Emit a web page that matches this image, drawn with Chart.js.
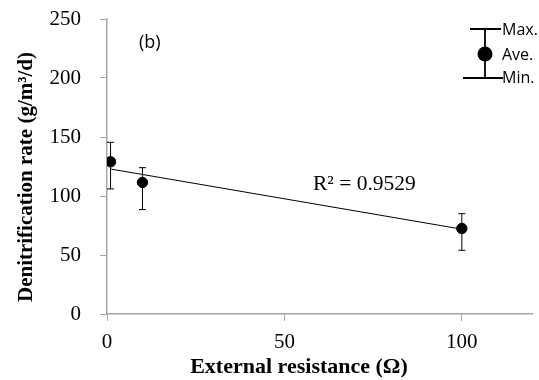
<!DOCTYPE html>
<html>
<head>
<meta charset="utf-8">
<script src="https://cdn.jsdelivr.net/npm/chart.js@4.4.0/dist/chart.umd.min.js"></script>
<style>
  html, body { margin: 0; padding: 0; background: #fff; }
  #wrap { width: 539px; height: 380px; position: relative; }
</style>
</head>
<body>
<div id="wrap"><canvas id="c" width="539" height="380"></canvas></div>
<script>
const resistance = [1, 10, 100];
const aveRate = [129, 111.5, 72.5];
const maxRate = [145.5, 124, 85];
const minRate = [106, 88.5, 54];
const yTicks = [0, 50, 100, 150, 200, 250];
const xTicks = [0, 50, 100];
const r2Label = 'R\u00b2 = 0.9529';
const xTitle = 'External resistance (\u03a9)';
const yTitle = 'Denitrification rate (g/m\u00b3/d)';

// least squares trend line from the averages
let n = resistance.length, mx = 0, my = 0;
for (let i = 0; i < n; i++) { mx += resistance[i] / n; my += aveRate[i] / n; }
let sxx = 0, sxy = 0;
for (let i = 0; i < n; i++) {
  sxx += (resistance[i] - mx) * (resistance[i] - mx);
  sxy += (resistance[i] - mx) * (aveRate[i] - my);
}
const slope = sxy / sxx, icpt = my - slope * mx;
const xFirst = resistance[0], xLast = resistance[n - 1];
const trend = [{x: xFirst, y: icpt + slope * xFirst}, {x: xLast, y: icpt + slope * xLast}];

const serif = '"Liberation Serif", "Times New Roman", serif';
const sans = '"Open Sans", "DejaVu Sans", sans-serif';
const axisGrey = '#a6a6a6';

// error bars, titles, labels and the little key ..............................
const extras = {
  id: 'extras',
  afterDatasetsDraw(chart) {
    const ctx = chart.ctx, xs = chart.scales.x, ys = chart.scales.y;
    ctx.save();
    ctx.strokeStyle = '#000';
    ctx.lineWidth = 1;
    for (let i = 0; i < n; i++) {
      const px = xs.getPixelForValue(resistance[i]);
      const top = ys.getPixelForValue(maxRate[i]);
      const bot = ys.getPixelForValue(minRate[i]);
      ctx.beginPath();
      ctx.moveTo(px, top); ctx.lineTo(px, bot);
      ctx.moveTo(px - 3.5, top); ctx.lineTo(px + 3.5, top);
      ctx.moveTo(px - 3.5, bot); ctx.lineTo(px + 3.5, bot);
      ctx.stroke();
    }
    ctx.fillStyle = '#000';
    ctx.textBaseline = 'middle';
    ctx.font = '21.5px ' + serif;
    ctx.fillText(r2Label, 313, 184);
    ctx.font = '18px ' + sans;
    ctx.fillText('(b)', 139, 43);

    // axis titles
    ctx.font = 'bold 22px ' + serif;
    ctx.textAlign = 'center';
    ctx.fillText(xTitle, 299, 367);
    ctx.save();
    ctx.translate(27, 177);
    ctx.rotate(-Math.PI / 2);
    ctx.font = 'bold 21px ' + serif;
    ctx.fillText(yTitle, 0, 0);
    ctx.restore();
    ctx.textAlign = 'left';

    // key
    const kx = 485;
    ctx.lineWidth = 1.8;
    ctx.beginPath();
    ctx.moveTo(kx, 29); ctx.lineTo(kx, 78);
    ctx.moveTo(kx - 15, 29); ctx.lineTo(kx + 16, 29);
    ctx.moveTo(kx - 22, 78); ctx.lineTo(kx + 18, 78);
    ctx.stroke();
    ctx.beginPath();
    ctx.arc(kx, 54, 7.5, 0, Math.PI * 2);
    ctx.fill();
    ctx.font = '16px ' + sans;
    ctx.fillText('Max.', 502, 30);
    ctx.fillText('Ave.', 502, 55);
    ctx.fillText('Min.', 502, 78);
    ctx.restore();
  }
};

const ctx = document.getElementById('c');
new Chart(ctx, {
  type: 'scatter',
  data: {
    datasets: [
      {
        label: 'Ave.',
        data: resistance.map((x, i) => ({x: x, y: aveRate[i]})),
        backgroundColor: '#000',
        borderColor: '#000',
        pointRadius: 5.2,
        order: 0
      },
      {
        label: 'trend',
        type: 'line',
        data: trend,
        borderColor: '#000',
        borderWidth: 1,
        pointRadius: 0,
        fill: false,
        order: 1
      }
    ]
  },
  options: {
    responsive: false,
    animation: false,
    layout: { padding: { top: 19, right: 6, left: 0, bottom: 0 } },
    plugins: { legend: { display: false }, tooltip: { enabled: false } },
    scales: {
      x: {
        type: 'linear',
        min: 0, max: 120,
        afterBuildTicks: (s) => { s.ticks = xTicks.map(v => ({value: v})); },
        afterFit: (s) => { s.height = 66; },
        border: { color: axisGrey, width: 1.5 },
        grid: { drawOnChartArea: false, color: axisGrey, tickLength: 7 },
        ticks: { color: '#000', font: { family: serif, size: 21 }, padding: 9 }
      },
      y: {
        min: 0, max: 250,
        afterBuildTicks: (s) => { s.ticks = yTicks.map(v => ({value: v})); },
        afterFit: (s) => { s.width = 107; s.paddingTop = 0; s.paddingBottom = 0; },
        border: { color: axisGrey, width: 1.5 },
        grid: { drawOnChartArea: false, color: axisGrey, tickLength: 7 },
        ticks: { color: '#000', font: { family: serif, size: 21 }, padding: 19 }
      }
    }
  },
  plugins: [extras]
});
</script>
</body>
</html>
